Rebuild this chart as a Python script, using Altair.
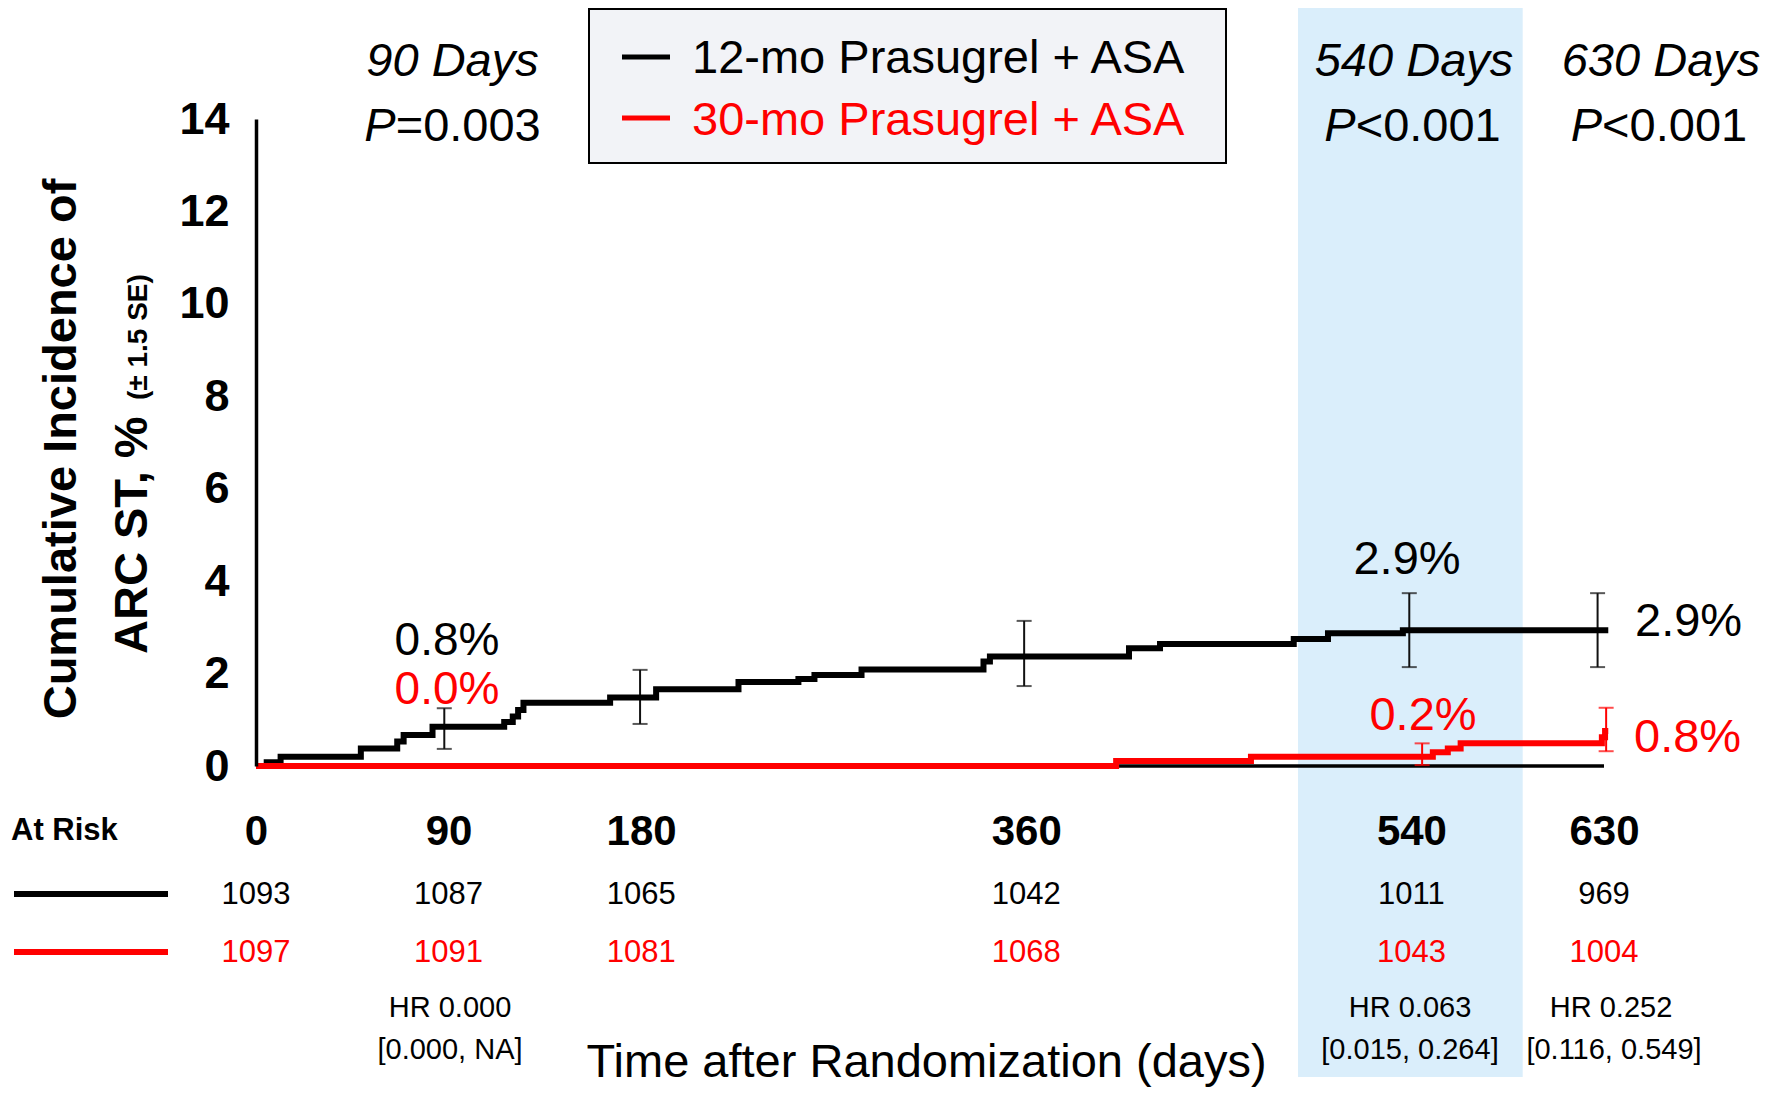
import altair as alt
import pandas as pd

FONT = "Liberation Sans, Arial, Helvetica, sans-serif"

# ---------------- data ----------------
black_days = [0, 5, 11.5, 49, 66, 69, 82.5, 116, 120, 122.5, 125, 165.5, 187, 225.5,
              253.5, 261, 283, 340, 343, 408, 422.5, 485, 501, 536, 632]
black_vals = [0, 0.08, 0.2, 0.38, 0.53, 0.67, 0.85, 0.95, 1.07, 1.21, 1.37, 1.48, 1.66, 1.82,
              1.88, 1.97, 2.09, 2.26, 2.37, 2.55, 2.64, 2.75, 2.87, 2.94, 2.94]
red_days = [0, 402, 465, 550, 557, 563, 629, 630.5, 632]
red_vals = [0, 0.11, 0.2, 0.3, 0.38, 0.49, 0.62, 0.76, 0.76]

eb_black_days = [88, 179.5, 359, 539, 627]
eb_black_lo = [0.37, 0.91, 1.73, 2.14, 2.14]
eb_black_hi = [1.25, 2.08, 3.14, 3.74, 3.74]
eb_red_days = [545, 631]
eb_red_lo = [0.02, 0.32]
eb_red_hi = [0.49, 1.26]

risk_days = [0, 90, 180, 360, 540, 630]
risk_black = [1093, 1087, 1065, 1042, 1011, 969]
risk_red = [1097, 1091, 1081, 1068, 1043, 1004]

band_start = [487]
band_end = [592]

x_ticks = [0, 90, 180, 360, 540, 630]
y_ticks = [0, 2, 4, 6, 8, 10, 12, 14]

# ---------------- layout ----------------
W, H = 1348, 647
PAD_L, PAD_T = 248, 111
OX, OY = 8 + PAD_L, 8 + PAD_T  # page position of plot origin


def px(x):
    return x - OX


def py(y):
    return y - OY


xs = alt.Scale(domain=[0, 630], nice=False, zero=False)
ys = alt.Scale(domain=[0, 14], nice=False)

xax = alt.Axis(values=x_ticks, grid=False, ticks=False, tickSize=0, domain=False,
               labelFontSize=42, labelFontWeight="bold", labelFont=FONT, labelColor="black",
               labelBaseline="alphabetic", labelPadding=78, labelFlush=False,
               labelOverlap=False, title=None, format="d", zindex=1)
yax = alt.Axis(values=y_ticks, grid=False, ticks=False, tickSize=0, domain=True,
               domainColor="black", domainWidth=3.5,
               labelFontSize=45, labelFontWeight="bold", labelFont=FONT, labelColor="black",
               labelPadding=27, labelFlush=False, labelOverlap=False, title=None,
               format="d", zindex=1)


def X(field):
    return alt.X(field, scale=xs, axis=xax)


def Y(field):
    return alt.Y(field, scale=ys, axis=yax)


def txt(s, x, y, size, color="black", weight="normal", style="normal",
        align="left", angle=0, baseline="alphabetic"):
    return alt.Chart(pd.DataFrame({"t": [s]})).mark_text(
        align=align, baseline=baseline, fontSize=size, fontWeight=weight,
        fontStyle=style, color=color, font=FONT, angle=angle
    ).encode(x=alt.value(px(x)), y=alt.value(py(y)), text="t:N")


def rect(x0, y0, x1, y1, fill, stroke=None, sw=0):
    kw = dict(fill=fill)
    if stroke:
        kw.update(stroke=stroke, strokeWidth=sw)
    return alt.Chart(pd.DataFrame({"a": [0]})).mark_rect(**kw).encode(
        x=alt.value(px(x0)), x2=alt.value(px(x1)),
        y=alt.value(py(y0)), y2=alt.value(py(y1)))


def hline(x0, x1, y, color, sw):
    return alt.Chart(pd.DataFrame({"a": [0]})).mark_rule(color=color, strokeWidth=sw).encode(
        x=alt.value(px(x0)), x2=alt.value(px(x1)), y=alt.value(py(y)))


# ---------------- tables ----------------
df_black = pd.DataFrame({"day": black_days, "v": black_vals})
df_red = pd.DataFrame({"day": red_days, "v": red_vals})
df_ebb = pd.DataFrame({"day": eb_black_days, "lo": eb_black_lo, "hi": eb_black_hi})
df_ebr = pd.DataFrame({"day": eb_red_days, "lo": eb_red_lo, "hi": eb_red_hi})
df_risk = pd.DataFrame({"day": risk_days, "b": risk_black, "r": risk_red})
df_band = pd.DataFrame({"s": band_start, "e": band_end})
df_base = pd.DataFrame({"s": [x_ticks[0]], "e": [x_ticks[-1]], "z": [0]})

BLUE = "#DAEEFB"
RED = "#FF0000"

band = alt.Chart(df_band).mark_rect(color=BLUE).encode(
    x=X("s:Q"), x2="e:Q", y=alt.value(py(8)), y2=alt.value(py(1077)))

baseline = alt.Chart(df_base).mark_rule(color="black", strokeWidth=3.5).encode(
    x=X("s:Q"), x2="e:Q", y=Y("z:Q"))

black_line = alt.Chart(df_black).mark_line(
    interpolate="step-after", color="black", strokeWidth=6).encode(x=X("day:Q"), y=Y("v:Q"))
red_line = alt.Chart(df_red).mark_line(
    interpolate="step-after", color=RED, strokeWidth=6).encode(x=X("day:Q"), y=Y("v:Q"))

ebb_rule = alt.Chart(df_ebb).mark_rule(color="#111111", strokeWidth=2).encode(
    x=X("day:Q"), y=Y("lo:Q"), y2="hi:Q")
ebb_lo = alt.Chart(df_ebb).mark_tick(color="#111111", orient="horizontal", size=15, thickness=2).encode(
    x=X("day:Q"), y=Y("lo:Q"))
ebb_hi = alt.Chart(df_ebb).mark_tick(color="#111111", orient="horizontal", size=15, thickness=2).encode(
    x=X("day:Q"), y=Y("hi:Q"))
ebr_rule = alt.Chart(df_ebr).mark_rule(color=RED, strokeWidth=2).encode(
    x=X("day:Q"), y=Y("lo:Q"), y2="hi:Q")
ebr_lo = alt.Chart(df_ebr).mark_tick(color=RED, orient="horizontal", size=15, thickness=2).encode(
    x=X("day:Q"), y=Y("lo:Q"))
ebr_hi = alt.Chart(df_ebr).mark_tick(color=RED, orient="horizontal", size=15, thickness=2).encode(
    x=X("day:Q"), y=Y("hi:Q"))

risk_b = alt.Chart(df_risk).mark_text(fontSize=31, font=FONT, color="black",
                                      baseline="alphabetic", align="center").encode(
    x=X("day:Q"), y=alt.value(py(904)), text="b:N")
risk_r = alt.Chart(df_risk).mark_text(fontSize=31, font=FONT, color=RED,
                                      baseline="alphabetic", align="center").encode(
    x=X("day:Q"), y=alt.value(py(962)), text="r:N")

layers = [band, baseline, ebb_rule, ebb_lo, ebb_hi, black_line, red_line,
          ebr_rule, ebr_lo, ebr_hi, risk_b, risk_r]

# legend box
layers += [
    rect(589, 9, 1226, 163, "#F2F3F7", "black", 2),
    hline(622, 670, 57, "black", 5),
    hline(622, 670, 118, RED, 5),
    txt("12-mo Prasugrel + ASA", 692, 73, 47),
    txt("30-mo Prasugrel + ASA", 692, 135, 47, color=RED),
]

# header landmarks
for label, p, cx_d, cx_p in [("90 Days", "=0.003", 452.5, 452.6),
                             ("540 Days", "<0.001", 1414, 1412.6),
                             ("630 Days", "<0.001", 1661, 1659)]:
    anchor = cx_p - 56.9
    layers += [
        txt(label, cx_d, 76, 47, style="italic", align="center"),
        txt("P", anchor, 141, 47, style="italic", align="right"),
        txt(p, anchor, 141, 47, align="left"),
    ]

# percentage annotations
layers += [
    txt("0.8%", 447, 655, 46, align="center"),
    txt("0.0%", 447, 704, 46, color=RED, align="center"),
    txt("2.9%", 1407, 574, 47, align="center"),
    txt("2.9%", 1635, 636, 47),
    txt("0.2%", 1423, 730, 47, color=RED, align="center"),
    txt("0.8%", 1634, 752, 47, color=RED),
]

# y-axis title
layers += [
    txt("Cumulative Incidence of", 76, 449, 47, weight="bold", align="center", angle=270),
    txt("ARC ST, %", 147, 654, 47, weight="bold", align="left", angle=270),
    txt("(\u00b1 1.5 SE)", 147, 400, 28, weight="bold", align="left", angle=270),
]

# at-risk table labels and HR
layers += [
    txt("At Risk", 11, 840, 31, weight="bold"),
    hline(14, 168, 894, "black", 6),
    hline(14, 168, 952, RED, 6),
    txt("HR 0.000", 450, 1017, 29, align="center"),
    txt("[0.000, NA]", 450, 1059, 29, align="center"),
    txt("HR 0.063", 1410, 1017, 29, align="center"),
    txt("[0.015, 0.264]", 1410, 1059, 29, align="center"),
    txt("HR 0.252", 1611, 1017, 29, align="center"),
    txt("[0.116, 0.549]", 1614, 1059, 29, align="center"),
    txt("Time after Randomization (days)", 926.6, 1077, 47, align="center"),
]

chart = alt.layer(*layers).properties(
    width=W, height=H,
    autosize=alt.AutoSizeParams(type="none"),
    padding={"left": PAD_L, "top": PAD_T, "right": 160, "bottom": 322},
).configure_view(strokeWidth=0)

chart.save("out.html", embed_options={"renderer": "svg", "actions": False})
